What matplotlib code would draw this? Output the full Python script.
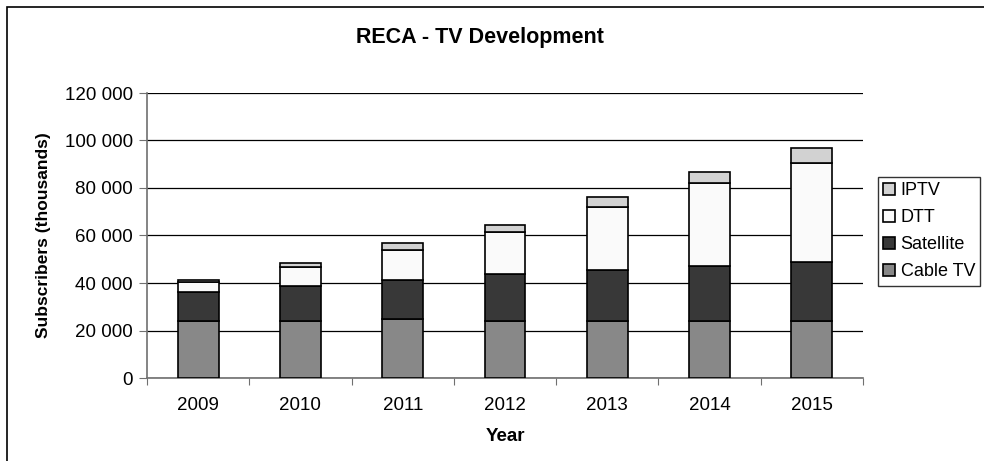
import matplotlib
matplotlib.use('Agg')
from matplotlib import pyplot as plt
from matplotlib.patches import Rectangle
from matplotlib.ticker import FuncFormatter, FixedLocator
import numpy as np

years = ['2009', '2010', '2011', '2012', '2013', '2014', '2015']
cable_tv = [24000, 24000, 24800, 24000, 24000, 24000, 24000]
satellite = [12300, 14900, 16500, 20000, 21600, 23300, 25000]
dtt = [4100, 7800, 12600, 17300, 26600, 34600, 41600]
iptv = [900, 1700, 2800, 3300, 4100, 4900, 6100]

series = [
    ('Cable TV', cable_tv, '#888888'),
    ('Satellite', satellite, '#383838'),
    ('DTT', dtt, '#fafafa'),
    ('IPTV', iptv, '#d2d2d2'),
]


def main():
    plt.rcParams['font.family'] = ['Liberation Sans', 'DejaVu Sans']

    fig = plt.figure(figsize=(9.84, 4.61), dpi=100)
    ax = fig.add_axes([147 / 984, 1 - 378 / 461, (863 - 147) / 984, (378 - 93) / 461])

    x = np.arange(len(years))
    bottom = np.zeros(len(years))
    handles = []
    for name, values, color in series:
        bars = ax.bar(x, values, width=0.4, bottom=bottom, color=color,
                      edgecolor='black', linewidth=1.2, label=name, zorder=3)
        handles.append(bars)
        bottom += np.array(values)

    ax.set_xlim(-0.5, len(years) - 0.5)
    ax.set_ylim(0, 120000)
    ax.set_yticks(np.arange(0, 120001, 20000))
    ax.yaxis.set_major_formatter(FuncFormatter(lambda v, p: f'{int(v):,}'.replace(',', ' ')))
    ax.grid(axis='y', color='black', linewidth=0.9, zorder=0)

    # category boundaries get the tick marks, centres get the labels
    ax.xaxis.set_major_locator(FixedLocator(np.arange(-0.5, len(years), 1.0)))
    ax.xaxis.set_major_formatter(FuncFormatter(lambda v, p: ''))
    ax.xaxis.set_minor_locator(FixedLocator(x))
    ax.set_xticklabels(years, minor=True)
    ax.tick_params(axis='x', which='major', length=5, color='#707070')
    ax.tick_params(axis='x', which='minor', length=0, pad=14, labelsize=13.5)
    ax.tick_params(axis='y', length=6, color='#707070', labelsize=13.5, pad=4)

    for side in ('top', 'right'):
        ax.spines[side].set_visible(False)
    for side in ('left', 'bottom'):
        ax.spines[side].set_color('#707070')
        ax.spines[side].set_linewidth(1.2)

    ax.set_xlabel('Year', fontsize=13.5, fontweight='bold', labelpad=10)
    ax.set_ylabel('Subscribers (thousands)', fontsize=12.5, fontweight='bold', labelpad=10)
    fig.text(480 / 984, 1 - 37 / 461, 'RECA - TV Development', fontsize=15.5,
             fontweight='bold', ha='center', va='center')

    leg = fig.legend(handles[::-1], [s[0] for s in series][::-1],
                     loc='upper left', bbox_to_anchor=(878 / 984, 1 - 177 / 461),
                     fontsize=13, frameon=True, fancybox=False, handlelength=0.65,
                     handleheight=0.65, handletextpad=0.3, borderpad=0.3,
                     labelspacing=0.55, borderaxespad=0)
    leg.get_frame().set_edgecolor('black')
    leg.get_frame().set_linewidth(1.0)

    # chart area frame
    fig.patches.append(Rectangle((7 / 984, -0.1), 1.2, 1.1 - 7 / 461,
                                 transform=fig.transFigure, fill=False,
                                 edgecolor='black', linewidth=1.2))

    fig.savefig('out.png', dpi=100)


if __name__ == '__main__':
    main()
